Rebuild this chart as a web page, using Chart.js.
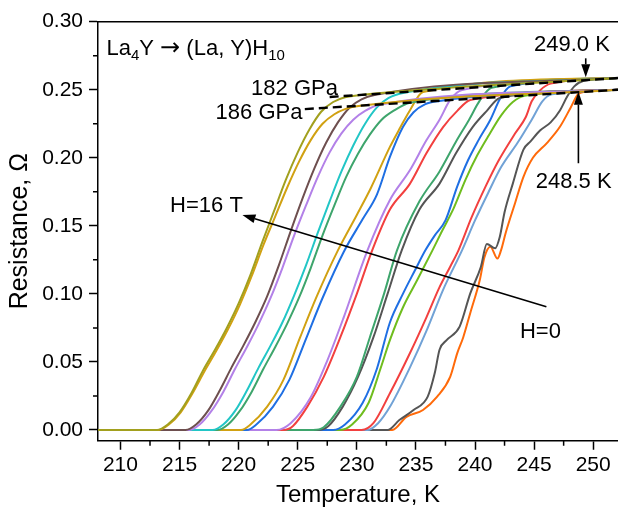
<!DOCTYPE html>
<html>
<head>
<meta charset="utf-8">
<script src="https://cdn.jsdelivr.net/npm/chart.js@4.4.0/dist/chart.umd.min.js"></script>
<style>
  html, body { margin: 0; padding: 0; background: #fff; overflow: hidden; }
</style>
</head>
<body>
<canvas id="chart" width="618" height="510"></canvas>
<script>
// R(T) curves, [temperature K, resistance Ohm]
// 182 GPa sample
const h16_182 = [[208.1,0],[213.1,0],[214,0.004],[215,0.013],[216,0.027],[217,0.044],[218,0.059],[219,0.075],[220,0.093],[221,0.114],[222,0.138],[223,0.161],[224,0.184],[225,0.204],[226,0.221],[227,0.234],[228,0.241],[229,0.2445],[230,0.2458],[252.1,0.2586]];
const h14_182 = [[208.1,0],[215.5,0],[216.4,0.004],[217.4,0.014],[218.4,0.029],[219.4,0.046],[220.4,0.062],[221.4,0.079],[222.4,0.098],[223.4,0.121],[224.4,0.146],[225.4,0.170],[226.4,0.192],[227.4,0.211],[228.4,0.226],[229.4,0.237],[230.4,0.243],[231.5,0.2462],[252.1,0.2586]];
const h12_182 = [[208.1,0],[217.8,0],[218.7,0.004],[219.7,0.014],[220.7,0.029],[221.7,0.046],[222.7,0.062],[223.7,0.079],[224.7,0.099],[225.7,0.121],[226.7,0.145],[227.7,0.168],[228.7,0.190],[229.7,0.209],[230.7,0.225],[231.7,0.237],[232.7,0.244],[234,0.2478],[252.1,0.2586]];
const h10_182 = [[208.1,0],[220.2,0],[221,0.004],[222.4,0.017],[223.8,0.037],[225.2,0.068],[226.6,0.098],[228.4,0.132],[230,0.158],[231.2,0.178],[232.8,0.208],[233.7,0.2226],[234.5,0.235],[235.6,0.2484],[252.1,0.2586]];
const h8_182 = [[208.1,0],[223.2,0],[224.4,0.005],[226.1,0.024],[227.5,0.051],[228.9,0.083],[230.9,0.132],[232.8,0.169],[234.5,0.191],[235.9,0.213],[237,0.228],[237.9,0.2425],[238.9,0.2498],[252.1,0.2586]];
const h6_182 = [[208.1,0],[226.3,0],[227.2,0.002],[228.6,0.017],[230,0.039],[231.1,0.068],[232.3,0.1],[233.4,0.132],[235.3,0.168],[237,0.19],[238.4,0.212],[239.5,0.228],[240.4,0.242],[241.4,0.2515],[252.1,0.2586]];
const h4_182 = [[208.1,0],[228,0],[229,0.004],[230.5,0.02],[231.7,0.045],[232.8,0.079],[233.9,0.1],[234.9,0.117],[235.8,0.132],[236.6,0.143],[237.5,0.154],[238.5,0.179],[239.4,0.198],[240.3,0.213],[241.3,0.228],[242.1,0.243],[243,0.2525],[252.1,0.2586]];
const h2_182 = [[208.1,0],[230.4,0],[231.4,0.005],[232.8,0.027],[234.5,0.0566],[235.9,0.083],[237,0.105],[237.9,0.12],[238.6,0.132],[239.7,0.156],[240.9,0.179],[242,0.198],[243.4,0.218],[244.3,0.23],[244.8,0.2415],[245.5,0.2495],[246.4,0.2545],[252.1,0.2586]];
const h0_182 = [[208.1,0],[232.6,0],[233.6,0.0073],[234.8,0.0147],[236,0.0245],[236.6,0.042],[237,0.059],[237.6,0.066],[238.7,0.076],[239.6,0.1004],[240.5,0.12],[241,0.1367],[241.7,0.1335],[242.1,0.142],[242.5,0.16],[243.2,0.181],[244.1,0.206],[244.7,0.212],[245.5,0.22],[246.4,0.226],[247.2,0.235],[247.8,0.245],[248.4,0.2525],[249.2,0.2566],[252.1,0.2586]];

// 186 GPa sample
const h16_186 = [[208.1,0],[213.2,0],[214.1,0.004],[215.1,0.013],[216.1,0.027],[217.1,0.043],[218.1,0.058],[219.1,0.074],[220.1,0.092],[221.1,0.113],[222.1,0.136],[223.1,0.157],[224.1,0.178],[225.1,0.197],[226.1,0.213],[227.1,0.225],[228.1,0.232],[229,0.2358],[230.5,0.2384],[252.1,0.25]];
const h14_186 = [[208.1,0],[215.8,0],[216.7,0.004],[217.7,0.014],[218.7,0.028],[219.7,0.045],[220.7,0.061],[221.7,0.078],[222.7,0.097],[223.7,0.119],[224.7,0.143],[225.7,0.165],[226.7,0.186],[227.7,0.204],[228.7,0.218],[229.7,0.228],[230.7,0.2345],[232,0.2392],[252.1,0.25]];
const h12_186 = [[208.1,0],[218.2,0],[219.1,0.004],[220.1,0.014],[221.1,0.028],[222.1,0.045],[223.1,0.061],[224.1,0.078],[225.1,0.097],[226.1,0.119],[227.1,0.143],[228.1,0.165],[229.1,0.186],[230.1,0.203],[231.1,0.217],[232.1,0.228],[233.1,0.2345],[234.5,0.2405],[252.1,0.25]];
const h10_186 = [[208.1,0],[220.7,0],[221.5,0.004],[222.9,0.017],[224.3,0.037],[225.7,0.067],[227.1,0.097],[228.9,0.131],[230.5,0.155],[231.7,0.173],[232.8,0.2006],[233.9,0.2226],[234.8,0.2335],[235.8,0.2395],[237,0.2418],[252.1,0.25]];
const h8_186 = [[208.1,0],[223.8,0],[224.6,0.003],[225.8,0.017],[227.2,0.039],[228.6,0.068],[230,0.1],[231.3,0.132],[232.8,0.162],[234.5,0.181],[235.9,0.2035],[237.3,0.2226],[238.5,0.2345],[239.6,0.2425],[252.1,0.25]];
const h6_186 = [[208.1,0],[226.7,0],[227.6,0.003],[228.8,0.017],[230.1,0.039],[231.4,0.068],[232.6,0.1],[233.8,0.132],[235.3,0.162],[237,0.181],[238.4,0.2035],[239.8,0.2226],[241,0.2345],[242.1,0.244],[252.1,0.25]];
const h4_186 = [[208.1,0],[228.6,0],[229.6,0.004],[231,0.02],[232,0.045],[232.8,0.066],[233.9,0.09],[235.1,0.11],[236.4,0.132],[237.2,0.146],[238.2,0.163],[239.2,0.184],[240.2,0.202],[241.2,0.217],[242.2,0.231],[243.2,0.241],[244.2,0.2455],[252.1,0.25]];
const h2_186 = [[208.1,0],[230.9,0],[231.8,0.005],[232.8,0.017],[234.5,0.046],[235.9,0.073],[237.3,0.103],[238.9,0.132],[240,0.154],[241.1,0.174],[242.2,0.193],[243.6,0.211],[244.8,0.228],[245.7,0.2415],[246.5,0.2466],[252.1,0.25]];
const h0_186 = [[208.1,0],[233,0],[234.2,0.0096],[235.6,0.0147],[236.8,0.0245],[237.9,0.039],[238.5,0.0565],[239,0.068],[239.6,0.086],[240.4,0.11],[240.8,0.127],[241.3,0.1347],[241.9,0.126],[242.2,0.132],[242.6,0.145],[243.4,0.167],[244.1,0.186],[244.9,0.2],[246.1,0.211],[247.2,0.223],[248.1,0.237],[248.7,0.2465],[249.3,0.2485],[252.1,0.25]];

// normal-state linear fits (dashed)
const fit182 = [[227.7,0.2447],[252.1,0.2586]];
const fit186 = [[225.6,0.2358],[252.1,0.25]];

const fields = ['16 T', '14 T', '12 T', '10 T', '8 T', '6 T', '4 T', '2 T', '0 T'];
const curves182 = [h16_182, h14_182, h12_182, h10_182, h8_182, h6_182, h4_182, h2_182, h0_182];
const curves186 = [h16_186, h14_186, h12_186, h10_186, h8_186, h6_186, h4_186, h2_186, h0_186];
const colors182 = ['#a2a01e', '#6e4f4f', '#22c6c6', '#d1a112', '#b381e8', '#3ea56c', '#1f6fe3', '#f2403f', '#555555'];
const colors186 = ['#d1a112', '#b381e8', '#3ea56c', '#1f6fe3', '#f2403f', '#555555', '#6fbd1e', '#71a2d6', '#ff6a0a'];

const xMajorTicks = [210, 215, 220, 225, 230, 235, 240, 245, 250];
const xMinorTicks = [212.5, 217.5, 222.5, 227.5, 232.5, 237.5, 242.5, 247.5];
const yMajorTicks = [0, 0.05, 0.10, 0.15, 0.20, 0.25, 0.30];
const yMinorTicks = [0.025, 0.075, 0.125, 0.175, 0.225, 0.275];

const FONT = '"Liberation Sans", Arial, sans-serif';

const toXY = arr => arr.map(p => ({ x: p[0], y: p[1] }));

const datasets = [];
// dashed fits on top
[fit182, fit186].forEach((f, i) => {
  datasets.push({
    label: i === 0 ? 'fit 182 GPa' : 'fit 186 GPa',
    data: toXY(f),
    borderColor: '#000',
    borderWidth: 2.4,
    borderDash: [9, 5],
    pointRadius: 0
  });
});
// curves, high field first so it is drawn on top
fields.forEach((h, i) => {
  datasets.push({
    label: '182 GPa, H=' + h,
    data: toXY(curves182[i]),
    borderColor: colors182[i],
    borderWidth: 2,
    pointRadius: 0,
    cubicInterpolationMode: 'monotone'
  });
  datasets.push({
    label: '186 GPa, H=' + h,
    data: toXY(curves186[i]),
    borderColor: colors186[i],
    borderWidth: 2,
    pointRadius: 0,
    cubicInterpolationMode: 'monotone'
  });
});

// annotations in data units
const textNotes = [
  { text: '182 GPa', x: 228.4, y: 0.2461, align: 'right' },
  { text: '186 GPa', x: 225.4, y: 0.2283, align: 'right' },
  { text: '249.0 K', x: 248.2, y: 0.2787, align: 'center' },
  { text: '248.5 K', x: 248.35, y: 0.1776, align: 'center' },
  { text: 'H=16 T', x: 214.2, y: 0.1604, align: 'left' },
  { text: 'H=0', x: 243.8, y: 0.0674, align: 'left' }
];
const arrowNotes = [
  { from: [249.37, 0.2731], to: [249.37, 0.2592] },
  { from: [248.75, 0.196], to: [248.75, 0.2486] },
  { from: [246.04, 0.0906], to: [220.32, 0.158] }
];

const annotate = {
  id: 'annotate',
  afterDatasetsDraw(chart) {
    const { ctx, scales: { x, y }, chartArea } = chart;
    ctx.save();
    ctx.fillStyle = '#000';
    ctx.strokeStyle = '#000';
    ctx.textBaseline = 'alphabetic';
    ctx.font = '22px ' + FONT;
    textNotes.forEach(n => {
      ctx.textAlign = n.align;
      ctx.fillText(n.text, x.getPixelForValue(n.x), y.getPixelForValue(n.y));
    });
    // compound label with subscripts
    let px = x.getPixelForValue(208.82);
    const py = y.getPixelForValue(0.2755);
    ctx.textAlign = 'left';
    const parts = [['La', '22px ' + FONT, 0], ['4', '15px ' + FONT, 5], ['Y ', '22px ' + FONT, 0],
                   ['\u2192', '24px "DejaVu Sans"', 0], [' (La, Y)H', '22px ' + FONT, 0], ['10', '15px ' + FONT, 5]];
    parts.forEach(([t, f, dy]) => {
      ctx.font = f;
      ctx.fillText(t, px, py + dy);
      px += ctx.measureText(t).width;
    });
    // arrows
    ctx.lineWidth = 1.6;
    arrowNotes.forEach(a => {
      const x0 = x.getPixelForValue(a.from[0]), y0 = y.getPixelForValue(a.from[1]);
      const x1 = x.getPixelForValue(a.to[0]), y1 = y.getPixelForValue(a.to[1]);
      const ang = Math.atan2(y1 - y0, x1 - x0);
      const hl = 13, hw = 4.5;
      const bx = x1 - hl * Math.cos(ang), by = y1 - hl * Math.sin(ang);
      ctx.beginPath();
      ctx.moveTo(x0, y0);
      ctx.lineTo(bx, by);
      ctx.stroke();
      ctx.beginPath();
      ctx.moveTo(x1, y1);
      ctx.lineTo(bx + hw * Math.sin(ang), by - hw * Math.cos(ang));
      ctx.lineTo(bx - hw * Math.sin(ang), by + hw * Math.cos(ang));
      ctx.closePath();
      ctx.fill();
    });
    // top frame line and minor ticks
    ctx.lineWidth = 1.5;
    ctx.beginPath();
    ctx.moveTo(chartArea.left, chartArea.top);
    ctx.lineTo(chart.width, chartArea.top);
    xMinorTicks.forEach(v => {
      const p = x.getPixelForValue(v);
      ctx.moveTo(p, chartArea.bottom);
      ctx.lineTo(p, chartArea.bottom + 5);
    });
    yMinorTicks.forEach(v => {
      const p = y.getPixelForValue(v);
      ctx.moveTo(chartArea.left, p);
      ctx.lineTo(chartArea.left - 5, p);
    });
    ctx.stroke();
    ctx.restore();
  }
};

new Chart(document.getElementById('chart'), {
  type: 'line',
  data: { datasets },
  options: {
    responsive: false,
    animation: false,
    layout: { padding: { top: 21.7, right: 0, left: 0, bottom: 0 } },
    plugins: { legend: { display: false }, tooltip: { enabled: false } },
    scales: {
      x: {
        type: 'linear',
        min: 208.1,
        max: 252.1,
        afterBuildTicks: s => { s.ticks = xMajorTicks.map(v => ({ value: v })); },
        afterFit: s => { s.height = 69.25; },
        border: { display: true, color: '#000', width: 1.5 },
        grid: { drawOnChartArea: false, drawTicks: true, tickLength: 9, tickColor: '#000', tickWidth: 1.5 },
        ticks: { autoSkip: false, maxRotation: 0, padding: 3, color: '#000', font: { family: FONT, size: 21 } },
        title: { display: true, text: 'Temperature, K', color: '#000', font: { family: FONT, size: 24 }, padding: { top: 0, bottom: 0 } }
      },
      y: {
        min: -0.0079,
        max: 0.30,
        afterBuildTicks: s => { s.ticks = yMajorTicks.map(v => ({ value: v })); },
        afterFit: s => { s.width = 98; },
        border: { display: true, color: '#000', width: 1.5 },
        grid: { drawOnChartArea: false, drawTicks: true, tickLength: 9, tickColor: '#000', tickWidth: 1.5 },
        ticks: { autoSkip: false, padding: 6, color: '#000', font: { family: FONT, size: 21 }, callback: v => v.toFixed(2) },
        title: { display: true, text: 'Resistance, \u03A9', color: '#000', font: { family: FONT, size: 25 }, padding: { top: 5, bottom: 0 } }
      }
    }
  },
  plugins: [annotate]
});
</script>
</body>
</html>
